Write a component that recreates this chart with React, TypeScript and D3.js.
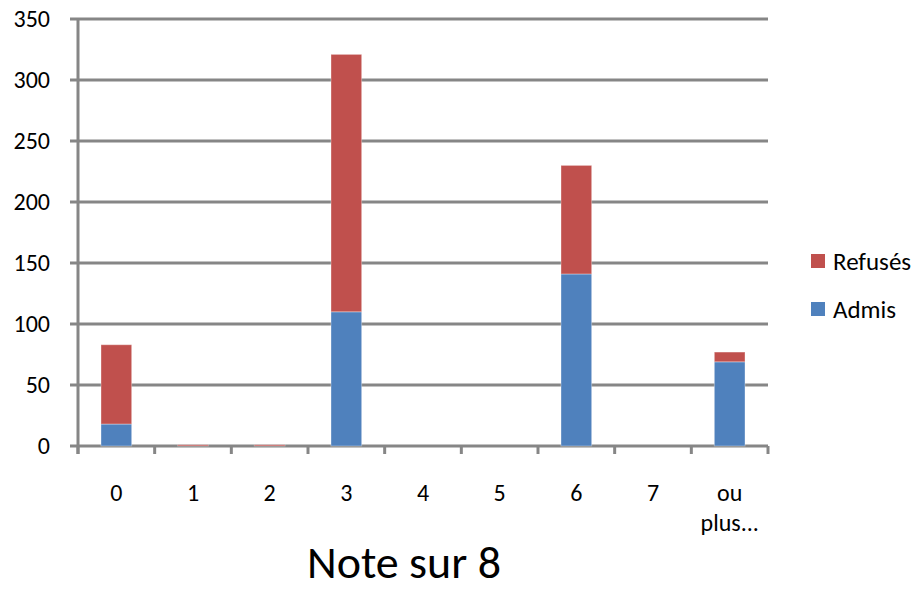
import React from "react";
import * as d3 from "d3";

const categories = ["0", "1", "2", "3", "4", "5", "6", "7", "ou plus..."];
const admis = [18, 0, 0, 110, 0, 0, 141, 0, 69];
const refuses = [65, 1, 1, 211, 0, 0, 89, 0, 8];
const yTicks = [0, 50, 100, 150, 200, 250, 300, 350];
const xTitle = "Note sur 8";
const seriesNames = ["Refusés", "Admis"];

const W = 920, H = 592;
const left = 78, right = 768, top = 19, bottom = 446;
const gray = "#868686";
const RED = "#C0504D", BLUE = "#4F81BD";
const font = "Carlito, 'Liberation Sans Narrow', 'Open Sans', sans-serif";

export default function App() {
  const x = d3.scaleBand<string>().domain(categories).range([left, right]).paddingInner(0.6).paddingOuter(0.3);
  const xb = d3.scaleBand<string>().domain(categories).range([left, right]);
  const y = d3.scaleLinear().domain([0, 350]).range([bottom, top]);

  const rows = categories.map((c, i) => ({ c, admis: admis[i], refuses: refuses[i] }));
  const stack = d3.stack<any>().keys(["admis", "refuses"])(rows);
  const colors: Record<string, string> = { admis: BLUE, refuses: RED };

  const boundaries = categories.map((c) => xb(c)!).concat([right]);

  return (
    <svg width={W} height={H} style={{ position: "absolute", left: 0, top: 0, background: "#fff" }}>
      {yTicks.map((t) => (
        <line key={t} x1={left - 8} x2={right} y1={y(t)} y2={y(t)} stroke={gray} strokeWidth={3} />
      ))}
      <line x1={left} x2={left} y1={top} y2={bottom + 8} stroke={gray} strokeWidth={3} />
      {boundaries.map((b, i) => (
        <line key={i} x1={b} x2={b} y1={bottom} y2={bottom + 8} stroke={gray} strokeWidth={3} />
      ))}
      {stack.map((s) => (
        <g key={s.key}>
          {s.map((d, i) => {
            const h = y(d[0]) - y(d[1]);
            if (h <= 0) return null;
            return (
              <rect
                key={i}
                x={x(categories[i])!}
                y={y(d[1])}
                width={x.bandwidth()}
                height={h}
                fill={colors[s.key]}
                stroke="#ffffff"
                strokeOpacity={0.35}
                strokeWidth={1}
              />
            );
          })}
        </g>
      ))}
      {yTicks.map((t) => (
        <text key={t} x={50} y={y(t)} dy="0.35em" textAnchor="end" fontFamily={font} fontSize={24} fill="#000">
          {t}
        </text>
      ))}
      {categories.map((c) => {
        const cx = xb(c)! + xb.bandwidth() / 2;
        const parts = c === "ou plus..." ? ["ou", "plus..."] : [c];
        return (
          <text key={c} x={cx} y={501} textAnchor="middle" fontFamily={font} fontSize={24} fill="#000">
            {parts.map((p, j) => (
              <tspan key={j} x={cx} dy={j === 0 ? 0 : 30}>{p}</tspan>
            ))}
          </text>
        );
      })}
      <text x={404} y={578} textAnchor="middle" fontFamily={font} fontSize={46} fill="#000">
        {xTitle}
      </text>
      {seriesNames.map((n, i) => (
        <g key={n} transform={`translate(811, ${254 + i * 48})`}>
          <rect width={14} height={14} fill={i === 0 ? RED : BLUE} />
          <text x={22} y={7} dy="0.35em" fontFamily={font} fontSize={25} fill="#000">{n}</text>
        </g>
      ))}
    </svg>
  );
}
